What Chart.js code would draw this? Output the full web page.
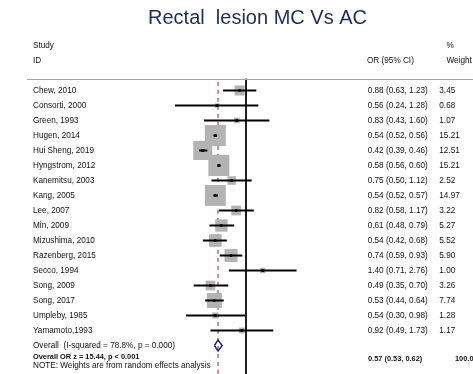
<!DOCTYPE html>
<html>
<head>
<meta charset="utf-8">
<script src="https://cdn.jsdelivr.net/npm/chart.js@4.4.1/dist/chart.umd.min.js"></script>
<style>
  body { margin: 0; background: #fff; }
  #wrap { width: 473px; height: 374px; }
</style>
</head>
<body>
<div id="wrap"><canvas id="forest" width="473" height="374"></canvas></div>
<script>
const studies = ['Chew, 2010', 'Consorti, 2000', 'Green, 1993', 'Hugen, 2014', 'Hui Sheng, 2019',
  'Hyngstrom, 2012', 'Kanemitsu, 2003', 'Kang, 2005', 'Lee, 2007', 'Min, 2009', 'Mizushima, 2010',
  'Razenberg, 2015', 'Secco, 1994', 'Song, 2009', 'Song, 2017', 'Umpleby, 1985', 'Yamamoto,1993'];
const orValues = [0.88, 0.56, 0.83, 0.54, 0.42, 0.58, 0.75, 0.54, 0.82, 0.61, 0.54, 0.74, 1.40, 0.49, 0.53, 0.54, 0.92];
const ciLow = [0.63, 0.24, 0.43, 0.52, 0.39, 0.56, 0.50, 0.52, 0.58, 0.48, 0.42, 0.59, 0.71, 0.35, 0.44, 0.30, 0.49];
const ciHigh = [1.23, 1.28, 1.60, 0.56, 0.46, 0.60, 1.12, 0.57, 1.17, 0.79, 0.68, 0.93, 2.76, 0.70, 0.64, 0.98, 1.73];
const weights = [3.45, 0.68, 1.07, 15.21, 12.51, 15.21, 2.52, 14.97, 3.22, 5.27, 5.52, 5.90, 1.00, 3.26, 7.74, 1.28, 1.17];
const overallOR = 0.57;
const overallLow = 0.53;
const overallHigh = 0.62;

const FONT = '"Liberation Sans", Arial, sans-serif';
const overallRow = studies.length;

const fmt = v => v.toFixed(2);

// box side grows with sqrt(weight) so area tracks the weight
const boxRadius = weights.map(w => 3.81 * Math.sqrt(w));

const datasets = [
  {
    type: 'line',
    data: [{ x: 1, y: -0.78 }, { x: 1, y: 19 }],
    borderColor: '#000',
    borderWidth: 1,
    pointRadius: 0,
    order: 6,
  },
  {
    type: 'line',
    data: [{ x: overallOR, y: -0.58 }, { x: overallOR, y: 19 }],
    borderColor: '#9b1c2c',
    borderWidth: 1,
    borderDash: [4, 4],
    pointRadius: 0,
    order: 6,
  },
  {
    type: 'scatter',
    data: orValues.map((v, i) => ({ x: v, y: i })),
    pointStyle: 'rect',
    pointRadius: boxRadius,
    backgroundColor: '#b3b3b3',
    borderWidth: 0,
    order: 5,
  },
  ...studies.map((s, i) => ({
    type: 'line',
    data: [{ x: ciLow[i], y: i }, { x: ciHigh[i], y: i }],
    borderColor: '#000',
    borderWidth: 2,
    pointRadius: 0,
    order: 4,
  })),
  {
    type: 'scatter',
    data: orValues.map((v, i) => ({ x: v, y: i })),
    pointStyle: 'circle',
    pointRadius: 1.6,
    backgroundColor: '#000',
    borderWidth: 0,
    order: 3,
  },
  {
    type: 'line',
    data: [
      { x: overallLow, y: overallRow },
      { x: overallOR, y: overallRow - 0.37 },
      { x: overallHigh, y: overallRow },
      { x: overallOR, y: overallRow + 0.37 },
      { x: overallLow, y: overallRow },
    ],
    borderColor: '#1c2580',
    borderWidth: 1.5,
    pointRadius: 0,
    tension: 0,
    order: 2,
  },
];

const rowY = (chart, i) => chart.scales.y.getPixelForValue(i);

const tableText = {
  id: 'tableText',
  afterDatasetsDraw(chart) {
    const c = chart.ctx;
    c.save();
    c.fillStyle = '#1f2d50';
    c.font = '20px ' + FONT;
    c.textAlign = 'center';
    c.textBaseline = 'alphabetic';
    c.fillText('Rectal  lesion MC Vs AC', 257.5, 23.5);

    c.strokeStyle = '#a8a8a8';
    c.lineWidth = 1;
    c.beginPath();
    c.moveTo(27, 79.5);
    c.lineTo(473, 79.5);
    c.stroke();

    c.fillStyle = '#111';
    c.textAlign = 'left';
    c.textBaseline = 'middle';
    c.font = '8.2px ' + FONT;
    c.fillText('Study', 33, 45.5);
    c.fillText('ID', 33, 61);
    c.fillText('OR (95% CI)', 367, 61);
    c.fillText('%', 446.5, 45.5);
    c.fillText('Weight', 446.5, 61);

    studies.forEach((s, i) => {
      const y = rowY(chart, i);
      c.fillText(s, 33, y);
      c.fillText(`${fmt(orValues[i])} (${fmt(ciLow[i])}, ${fmt(ciHigh[i])})`, 367.7, y);
      c.fillText(fmt(weights[i]), 439.3, y);
    });

    c.fillText('Overall  (I-squared = 78.8%, p = 0.000)', 33, rowY(chart, overallRow));
    c.fillText('NOTE: Weights are from random effects analysis', 33, 365.8);

    c.font = 'bold 7.4px ' + FONT;
    c.fillText('Overall OR z = 15.44, p < 0.001', 33, 357.3);
    c.fillText(`${fmt(overallOR)} (${fmt(overallLow)}, ${fmt(overallHigh)})`, 368, 359.3);
    c.fillText('100.00', 455, 359.3);
    c.restore();
  },
};

new Chart(document.getElementById('forest'), {
  type: 'scatter',
  data: { datasets },
  options: {
    responsive: false,
    animation: false,
    layout: { padding: 0, autoPadding: false },
    plugins: {
      legend: { display: false },
      title: { display: false },
      tooltip: { enabled: false },
    },
    scales: {
      x: {
        type: 'logarithmic',
        display: false,
        min: 0.007165,
        max: 95.3,
      },
      y: {
        type: 'linear',
        display: false,
        reverse: true,
        bounds: 'data',
        min: -6.033,
        max: 18.9,
      },
    },
  },
  plugins: [tableText],
});
</script>
</body>
</html>
